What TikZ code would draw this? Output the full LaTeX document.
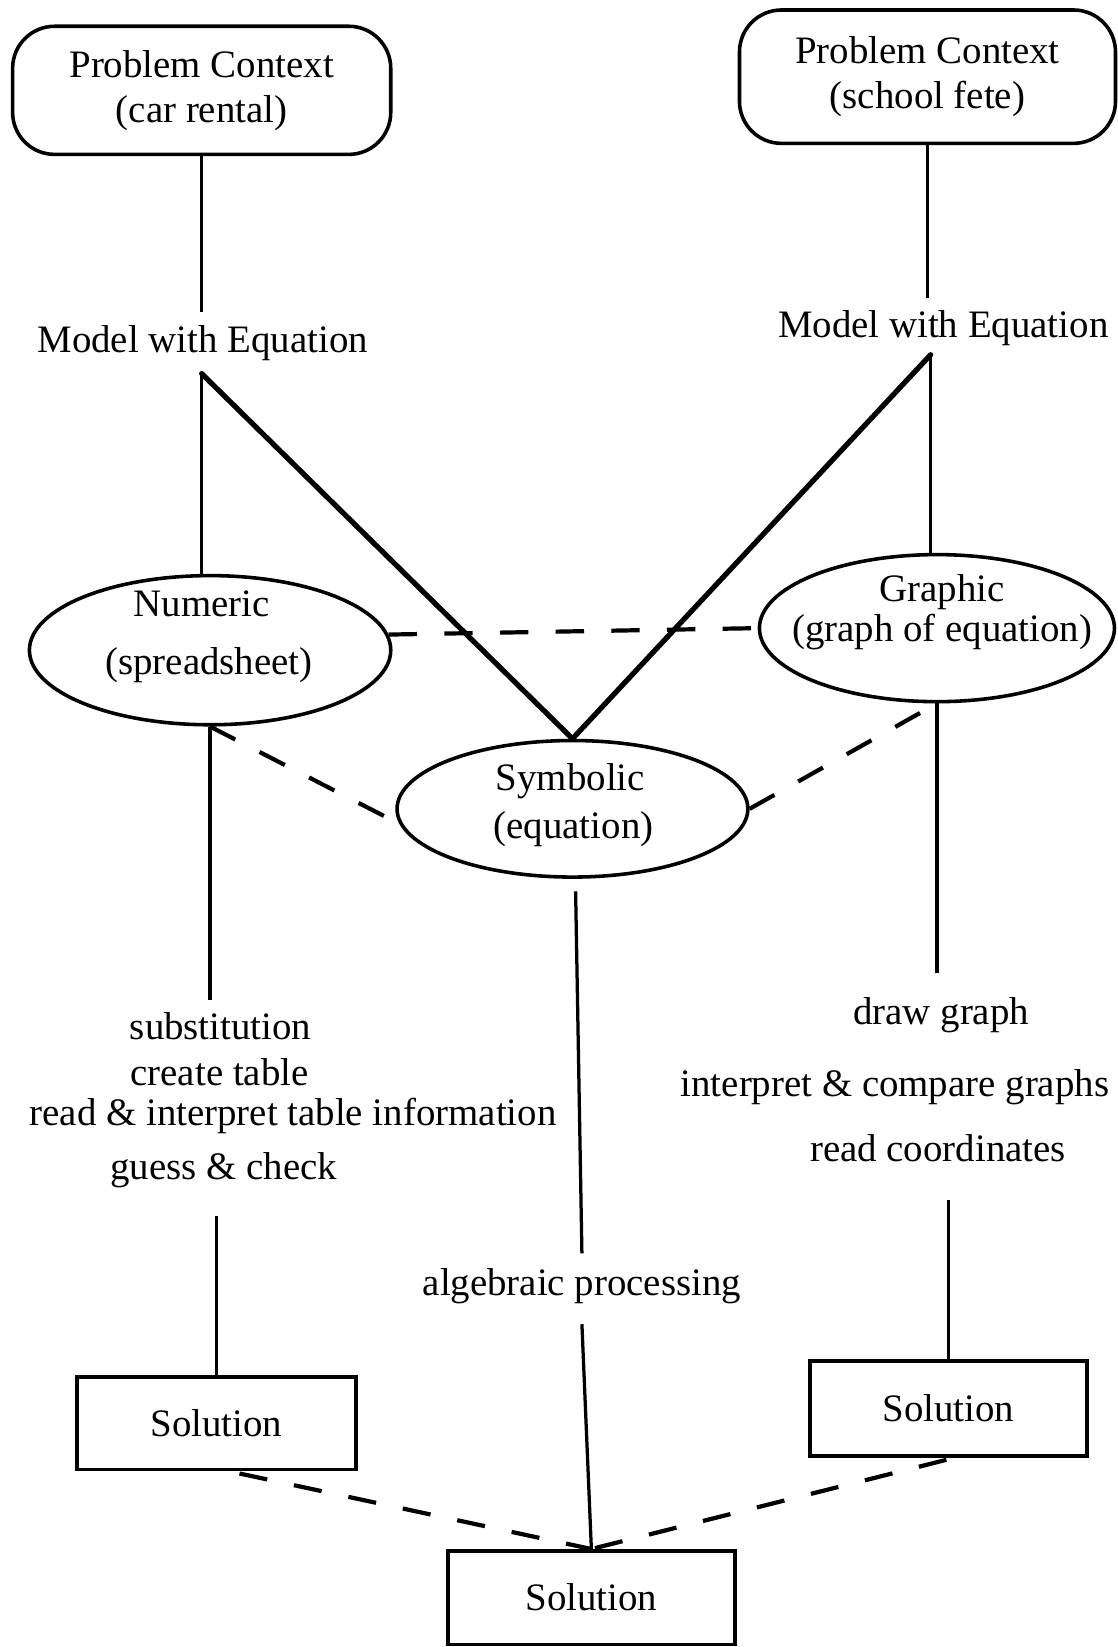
\documentclass[tikz,border=0pt]{standalone}
\usepackage{fontspec}
\setmainfont{Liberation Serif}
\usetikzlibrary{shapes.geometric,calc}
\tikzset{
  bigfont/.style={font=\fontsize{37}{43}\selectfont},
  txt/.style={bigfont, inner sep=0pt, text height=25pt, text depth=8pt, anchor=center},
  ctx/.style={draw, line width=3.4pt, rounded corners=40pt, align=center, bigfont, inner sep=0pt},
  oval/.style={draw, ellipse, line width=3.4pt, inner sep=0pt},
  solbox/.style={draw, rectangle, line width=3.6pt, bigfont, inner sep=0pt},
  link/.style={line width=3.1pt},
  thicklink/.style={line width=5pt, line cap=round},
  dlink/.style={line width=4pt, dash pattern=on 27pt off 26pt},
}
\begin{document}
\begin{tikzpicture}[x=1pt,y=-1pt]
\useasboundingbox (0,0) rectangle (1064,1568);
% nodes
\node[ctx, minimum width=360pt, minimum height=122pt] (pc1) at (192,86) {Problem Context\\(car rental)};
\node[ctx, minimum width=358pt, minimum height=127pt] (pc2) at (883,73) {Problem Context\\(school fete)};
\node[txt] (m1) at (193,327) {Model with Equation};
\node[txt] (m2) at (898,313) {Model with Equation};
\node[oval, minimum width=344pt, minimum height=142pt] (num) at (200,619) {};
\node[txt] (numa) at (192,578) {Numeric};
\node[txt] (numb) at (199,634) {(spreadsheet)};
\node[oval, minimum width=338pt, minimum height=140pt] (gra) at (892,598) {};
\node[txt] (graa) at (897,564) {Graphic};
\node[txt] (grab) at (897,602) {(graph of equation)};
\node[oval, minimum width=334pt, minimum height=130pt] (sym) at (545,770) {};
\node[txt] (syma) at (543,744) {Symbolic};
\node[txt] (symb) at (546,790) {(equation)};
\node[txt] (s1) at (210,981) {substitution};
\node[txt] (s2) at (209,1025) {create table};
\node[txt] (s3) at (279,1063) {read \& interpret table information};
\node[txt] (s4) at (213,1114) {guess \& check};
\node[txt] (g1) at (896,967) {draw graph};
\node[txt] (g2) at (852,1035) {interpret \& compare graphs};
\node[txt] (g3) at (893,1097) {read coordinates};
\node[txt] (ap) at (554,1225) {algebraic processing};
\node[solbox, minimum width=266pt, minimum height=88pt] (lsol) at (206,1355) {Solution};
\node[solbox, minimum width=263pt, minimum height=90pt] (rsol) at (903,1341) {Solution};
\node[solbox, minimum width=273pt, minimum height=89pt] (bsol) at (563,1521) {Solution};
% helper coordinates
\coordinate (j1) at ($(m1.south)+(-1,12)$);
\coordinate (j2) at ($(m2.south)+(-12,8)$);
\coordinate (m1t) at ($(m1.north)+(0,-13)$);
\coordinate (m2t) at ($(m2.north)+(0,-13)$);
\coordinate (s1t) at ($(s1.north)+(0,-12)$);
\coordinate (s4b) at ($(s4.south)+(0,27)$);
\coordinate (sb) at ($(sym.south)+(3,12)$);
\coordinate (apt) at ($(ap.north)+(0,-15)$);
\coordinate (apb) at ($(ap.south)+(0,19)$);
\coordinate (g1t) at ($(g1.north)+(0,-24)$);
\coordinate (g3b) at ($(g3.south)+(0,29)$);
\coordinate (lsd) at ($(lsol.south)+(22,2)$);
\coordinate (rsd) at ($(rsol.south)+(-2,2)$);
% solid connectors
\draw[link] (pc1.south) -- (pc1.south |- m1t);
\draw[link] (j1) -- (j1 |- num.north);
\draw[thicklink] (j1) -- (sym.north);
\draw[link] (pc2.south) -- (pc2.south |- m2t);
\draw[link] (j2) -- (j2 |- gra.north);
\draw[thicklink] (j2) -- (sym.north);
\draw[link] (num.south) -- (num.south |- s1t);
\draw[link] (lsol.north |- s4b) -- (lsol.north);
\draw[link] (sb) -- (apt);
\draw[link] (apb) -- (bsol.north);
\draw[link] (gra.south) -- (gra.south |- g1t);
\draw[link] (rsol.north |- g3b) -- (rsol.north);
% dashed connectors
\draw[dlink] (num.5) -- (gra.west);
\draw[dlink] (num.south) -- (sym.185);
\draw[dlink] (sym.east) -- (gra.south);
\draw[dlink] (lsd) -- (bsol.north);
\draw[dlink] (rsd) -- (bsol.north);
\end{tikzpicture}
\end{document}
